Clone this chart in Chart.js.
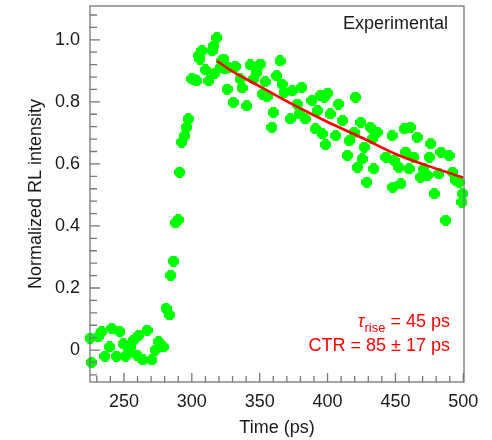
<!DOCTYPE html>
<html>
<head>
<meta charset="utf-8">
<script src="https://cdn.jsdelivr.net/npm/chart.js@4"></script>
<style>
  html, body { margin: 0; padding: 0; background: #fff; }
  #wrap { width: 492px; height: 440px; }
</style>
</head>
<body>
<div id="wrap"><canvas id="c" width="492" height="440"></canvas></div>
<script>
// measured RL points (time in ps, normalized intensity)
const times = [
  225, 226, 231, 233.5, 236, 239.5, 241, 244.5, 247, 249.5, 251, 253, 254.5, 257, 259.5, 261, 264, 267, 270.5, 273, 275.5, 279,
  281, 283.5, 284.5, 286.5, 288, 290, 291, 292.5, 294.5, 296, 297.5, 300, 301.5, 303.5, 305, 306, 307.5, 310, 312.5, 315, 316, 317, 318.5,
  321, 322, 323.5, 324.5, 326, 327, 330.5, 332, 335.5, 337, 340.5, 343, 345.5, 348, 350.5, 352, 354, 355.5, 359, 360, 362.5, 365, 366.5, 368,
  372.5, 374, 377.5, 379, 381, 383.5, 388.5, 391, 392.5, 394.5, 396, 397.5, 398.5, 400, 402, 406, 408, 411, 414.5, 416, 419.5, 420.5, 422,
  424.5, 425.5, 427, 429, 431.5, 433, 434, 436.5, 443, 447.5, 448, 449, 452.5, 454, 456.5, 457.5, 460, 461, 463.5, 466, 468.5, 471, 473.5,
  475, 476, 478.5, 482, 483.5, 487, 489.5, 492, 494.5, 497, 499, 499.5
];
const intensity = [
  0.038, -0.04, 0.043, 0.059, -0.02, 0.01, 0.07, -0.02, 0.059, 0.02, -0.02, 0.0, 0.01, 0.032, -0.016, 0.048, -0.032, 0.064, -0.032, 0.0, 0.027, 0.01,
  0.134, 0.113, 0.241, 0.287, 0.41, 0.42, 0.573, 0.67, 0.69, 0.718, 0.745, 0.874, 0.871, 0.868, 0.95, 0.938, 0.965, 0.903, 0.868, 0.965, 0.98, 0.893, 1.007,
  0.911, 0.932, 0.938, 0.906, 0.841, 0.911, 0.798, 0.914, 0.874, 0.845, 0.787, 0.919, 0.874, 0.895, 0.922, 0.825, 0.865, 0.817, 0.718, 0.766, 0.884, 0.932, 0.857, 0.83,
  0.745, 0.836, 0.793, 0.761, 0.847, 0.745, 0.804, 0.713, 0.772, 0.82, 0.697, 0.815, 0.662, 0.828, 0.761, 0.691, 0.793, 0.74, 0.627, 0.675, 0.702, 0.815, 0.589,
  0.734, 0.616, 0.654, 0.541, 0.718, 0.681, 0.584, 0.702, 0.622, 0.691, 0.525, 0.611, 0.589, 0.536, 0.713, 0.638, 0.584, 0.718, 0.622, 0.686, 0.557, 0.584, 0.563,
  0.622, 0.665, 0.504, 0.568, 0.638, 0.418, 0.627, 0.573, 0.547, 0.541, 0.477, 0.504
];

// red decay fit
const fitTimes = [318.5, 330, 350, 375, 400, 425, 450, 475, 500];
const fitValues = [0.932, 0.898, 0.850, 0.790, 0.735, 0.685, 0.632, 0.592, 0.556];

const xTickLabels = [250, 300, 350, 400, 450, 500];
const yTickLabels = [0, 0.2, 0.4, 0.6, 0.8, 1.0];
const xMinorTicks = [230, 240, 260, 270, 280, 290, 310, 320, 330, 340, 360, 370, 380, 390, 410, 420, 430, 440, 460, 470, 480, 490];
const yMinorTicks = [-0.08, -0.04, 0.04, 0.08, 0.12, 0.16, 0.24, 0.28, 0.32, 0.36, 0.44, 0.48, 0.52, 0.56, 0.64, 0.68, 0.72, 0.76, 0.84, 0.88, 0.92, 0.96, 1.04, 1.08];

const FONT = "'Liberation Sans', Arial, Helvetica, sans-serif";

// thick green plus marker
function makeMarker() {
  const c = document.createElement('canvas');
  c.width = 11; c.height = 11;
  const g = c.getContext('2d');
  g.fillStyle = '#00ff00';
  g.fillRect(0, 3, 11, 5);
  g.fillRect(3, 0, 5, 11);
  g.fillRect(1, 1, 9, 9);
  g.clearRect(0, 0, 2, 2); g.clearRect(9, 0, 2, 2);
  g.clearRect(0, 9, 2, 2); g.clearRect(9, 9, 2, 2);
  return c;
}

// frame, inward ticks and the text labels
const decor = {
  id: 'decor',
  afterDatasetsDraw(chart) {
    const { ctx, chartArea: a, scales } = chart;
    const xs = scales.x, ys = scales.y;
    ctx.save();
    ctx.strokeStyle = '#777';
    ctx.lineWidth = 1.3;
    ctx.strokeRect(a.left, a.top, a.right - a.left, a.bottom - a.top);
    ctx.beginPath();
    xTickLabels.forEach(v => { const p = xs.getPixelForValue(v); ctx.moveTo(p, a.bottom); ctx.lineTo(p, a.bottom - 9); });
    xMinorTicks.forEach(v => { const p = xs.getPixelForValue(v); ctx.moveTo(p, a.bottom); ctx.lineTo(p, a.bottom - 6); });
    yTickLabels.forEach(v => { const p = ys.getPixelForValue(v); ctx.moveTo(a.left, p); ctx.lineTo(a.left + 10, p); });
    yMinorTicks.forEach(v => { const p = ys.getPixelForValue(v); ctx.moveTo(a.left, p); ctx.lineTo(a.left + 7, p); });
    ctx.stroke();

    ctx.fillStyle = '#1a1a1a';
    ctx.font = '18px ' + FONT;
    ctx.textAlign = 'right';
    ctx.textBaseline = 'alphabetic';
    ctx.fillText('Experimental', a.right - 16, 29);

    // red annotation, right aligned
    const rx = a.right - 14;
    ctx.fillStyle = '#ff0000';
    const parts = [
      { t: '\u03c4', f: 'italic 18px ' + FONT, dy: 0 },
      { t: 'rise', f: '13px ' + FONT, dy: 5 },
      { t: ' = 45 ps', f: '18px ' + FONT, dy: 0 }
    ];
    let w = 0;
    parts.forEach(p => { ctx.font = p.f; w += ctx.measureText(p.t).width; });
    let x = rx - w;
    ctx.textAlign = 'left';
    parts.forEach(p => { ctx.font = p.f; ctx.fillText(p.t, x, 327 + p.dy); x += ctx.measureText(p.t).width; });
    ctx.font = '18px ' + FONT;
    ctx.textAlign = 'right';
    ctx.fillText('CTR = 85 \u00b1 17 ps', rx, 351);
    ctx.restore();
  }
};

const marker = makeMarker();

new Chart(document.getElementById('c'), {
  type: 'scatter',
  data: {
    datasets: [
      {
        type: 'line',
        data: fitTimes.map((t, i) => ({ x: t, y: fitValues[i] })),
        borderColor: '#ff0000',
        borderWidth: 2.6,
        pointRadius: 0,
        cubicInterpolationMode: 'monotone',
        fill: false,
        order: 0
      },
      {
        data: times.map((t, i) => ({ x: t, y: intensity[i] })),
        pointStyle: marker,
        pointRadius: 5,
        clip: 8,
        order: 1
      }
    ]
  },
  plugins: [decor],
  options: {
    responsive: false,
    animation: false,
    layout: { padding: { left: 0, right: 28, top: 5, bottom: 0 } },
    plugins: { legend: { display: false }, tooltip: { enabled: false } },
    scales: {
      x: {
        type: 'linear',
        min: 225,
        max: 500.5,
        afterBuildTicks: s => { s.ticks = xTickLabels.map(v => ({ value: v })); },
        afterFit: s => { s.height = 58; s.paddingLeft = 0; s.paddingRight = 0; },
        grid: { display: false, drawTicks: false },
        border: { display: false },
        ticks: { color: '#1a1a1a', font: { family: FONT, size: 18 }, padding: 9, maxRotation: 0 },
        title: { display: true, text: 'Time (ps)', color: '#1a1a1a', font: { family: FONT, size: 18 }, padding: { top: 0, bottom: 1 } }
      },
      y: {
        min: -0.103,
        max: 1.109,
        afterBuildTicks: s => { s.ticks = yTickLabels.map(v => ({ value: v })); },
        afterFit: s => { s.width = 90; s.paddingTop = 0; s.paddingBottom = 0; },
        grid: { display: false, drawTicks: false },
        border: { display: false },
        ticks: {
          color: '#1a1a1a', font: { family: FONT, size: 18 }, padding: 10,
          callback: v => (v === 0 ? '0' : v.toFixed(1))
        },
        title: { display: true, text: 'Normalized RL intensity', color: '#1a1a1a', font: { family: FONT, size: 18 }, padding: { top: 25, bottom: 0 } }
      }
    }
  }
});
</script>
</body>
</html>
